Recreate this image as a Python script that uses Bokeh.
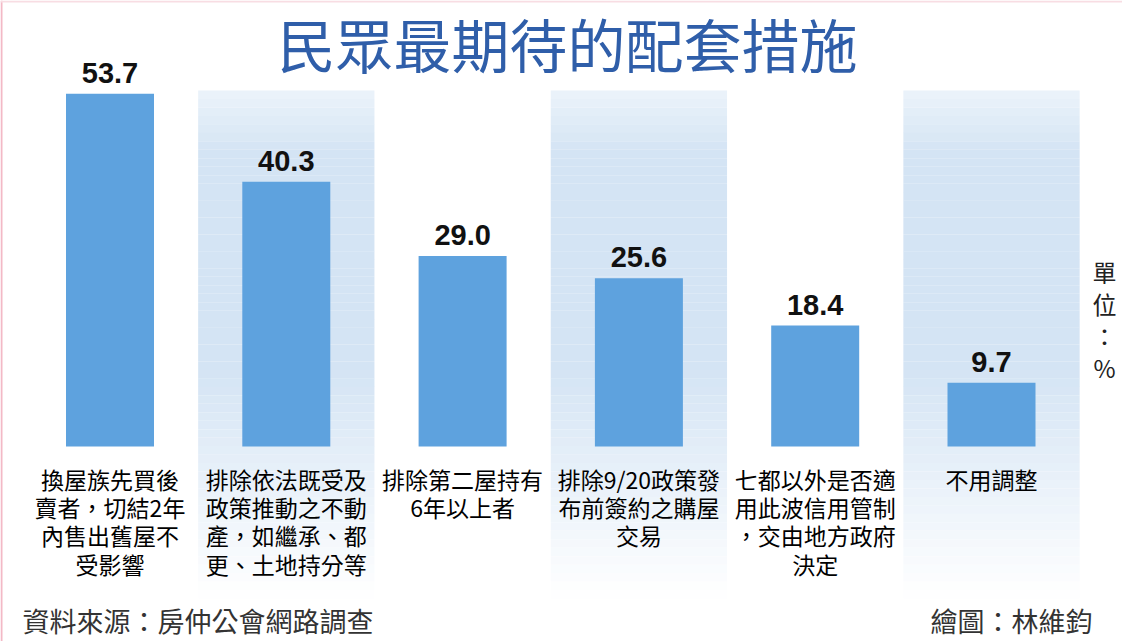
from bokeh.plotting import figure
from bokeh.embed import file_html
from bokeh.resources import INLINE
from bokeh.core.properties import value
from bokeh.models import Range1d, Span

# ---------------- data ----------------
title_text = "民眾最期待的配套措施"
categories = [
    "換屋族先買後\n賣者，切結2年\n內售出舊屋不\n受影響",
    "排除依法既受及\n政策推動之不動\n產，如繼承、都\n更、土地持分等",
    "排除第二屋持有\n6年以上者",
    "排除9/20政策發\n布前簽約之購屋\n交易",
    "七都以外是否適\n用此波信用管制\n，交由地方政府\n決定",
    "不用調整",
]
values = [53.7, 40.3, 29.0, 25.6, 18.4, 9.7]
value_labels = ["53.7", "40.3", "29.0", "25.6", "18.4", "9.7"]
unit_text = "單\n位\n：\n%"
source_text = "資料來源：房仲公會網路調查"
credit_text = "繪圖：林維鈞"

# ---------------- layout (reference pixel geometry) ----------------
W, H = 1122, 641
X0, DX = 109.5, 176.3      # ref px of first bar centre, spacing
Y0, DY = 446.0, 6.57       # ref px of baseline, px per unit
OFF = 0                    # figure origin on the page


def fx(px):
    return (px - X0) / DX


def fy(py):
    return (Y0 - py) / DY


p = figure(width=W, height=H, output_backend="svg", toolbar_location=None,
           x_range=Range1d(fx(OFF), fx(OFF + W)),
           y_range=Range1d(fy(OFF + H), fy(OFF)),
           min_border=0, outline_line_color=None,
           background_fill_color="white", border_fill_color="white")
p.axis.visible = False
p.grid.visible = False

CJK = value("Noto Sans CJK TC")

# shaded gradient bands behind every second category
n_strips = 60
band_top, band_bot = 90.0, 598.0
base = (212, 228, 244)
idx = list(range(len(values)))
for i in idx[1::2]:
    for k in range(n_strips):
        t0 = k / n_strips
        t1 = (k + 1) / n_strips
        tm = (t0 + t1) / 2
        if tm < 0.12:
            a = 0.45 + 0.55 * tm / 0.12
        elif tm < 0.55:
            a = 1.0
        else:
            a = max(0.0, 1.0 - (tm - 0.55) / 0.45)
        c = tuple(int(round(255 - (255 - b) * a)) for b in base)
        col = "#%02x%02x%02x" % c
        p.quad(left=i - 0.5, right=i + 0.5,
               top=fy(band_top + t0 * (band_bot - band_top)),
               bottom=fy(band_top + t1 * (band_bot - band_top)) - 0.01,
               fill_color=col, line_color=None)

# thin pink frame edges (left, top)
p.add_layout(Span(location=fx(1), dimension="height",
                  line_color="#f3b9c6", line_width=2))
p.add_layout(Span(location=fy(1), dimension="width",
                  line_color="#f8dde3", line_width=2))

# bars
p.vbar(x=idx, top=values, bottom=0, width=88 / DX,
       fill_color="#5ea2de", line_color=None)

# value labels
p.text(x=idx, y=[v + 21 / DY for v in values], text=value_labels,
       text_font=value("Liberation Sans"), text_font_style="bold",
       text_font_size="29px", text_color="#111111",
       text_align="center", text_baseline="middle")

# category labels
p.text(x=idx, y=[fy(461)] * len(idx), text=categories,
       text_font=CJK, text_font_size="23px", text_color="#000000",
       text_align="center", text_baseline="top", text_line_height=0.835)

# title
p.text(x=[fx(567)], y=[fy(42)], text=[title_text],
       text_font=CJK, text_font_size="58px",
       text_color="#2f5ea9", text_align="center", text_baseline="middle")

# unit
p.text(x=[fx(1104)], y=[fy(253)], text=[unit_text],
       text_font=CJK, text_font_size="24px", text_color="#222222",
       text_align="center", text_baseline="top", text_line_height=0.92)

# footers
p.text(x=[fx(22)], y=[fy(620)], text=[source_text],
       text_font=CJK, text_font_size="27px", text_color="#333333",
       text_align="left", text_baseline="middle")
p.text(x=[fx(1092)], y=[fy(620)], text=[credit_text],
       text_font=CJK, text_font_size="27px", text_color="#333333",
       text_align="right", text_baseline="middle")

open("out.html", "w").write(file_html(p, INLINE))
